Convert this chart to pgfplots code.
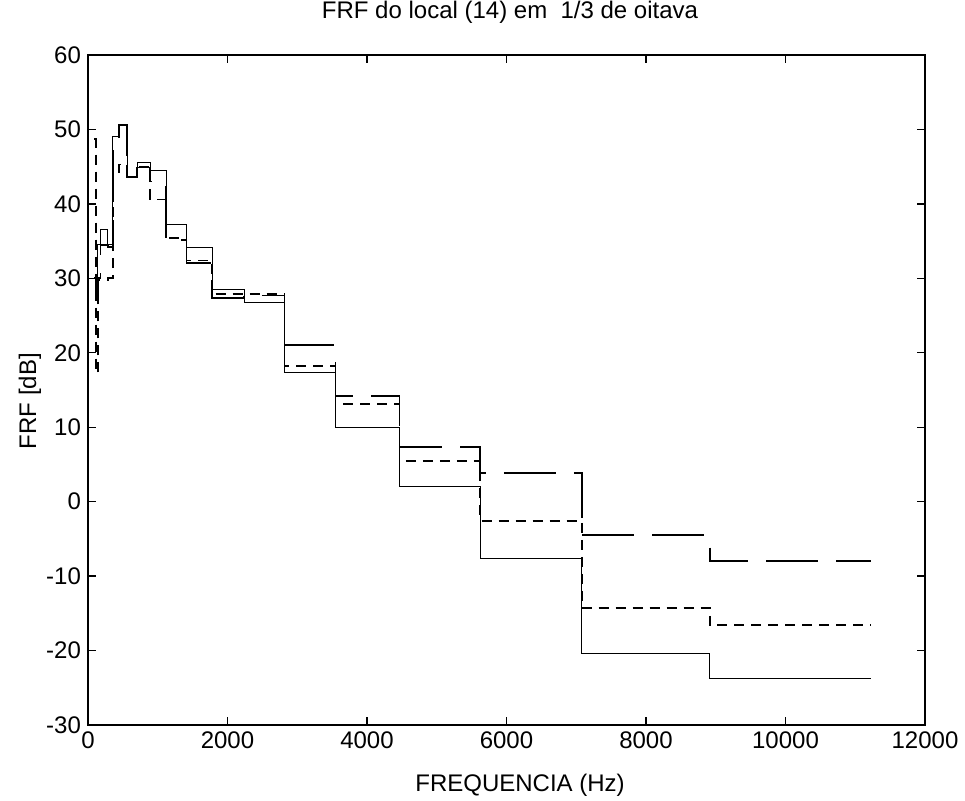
\documentclass[border=0pt]{standalone}
\usepackage{fontspec}
\setmainfont{Liberation Sans}
\usepackage{pgfplots}
\usepackage{pgfplotstable}
\pgfplotsset{compat=1.18}
% band lower edges (Hz); last row closes the last band
\pgfplotstableread{
x      S      D      L
89     30.0   48.7   30.0
112    30.0   17.3   27.3
141    34.5   29.8   30.0
178    36.5   29.8   34.5
224    36.5   29.8   34.5
282    34.5   30.0   34.2
355    49.0   44.1   49.0
447    50.6   45.3   50.6
562    43.6   43.6   43.6
708    45.6   45.0   44.9
891    44.5   40.6   43.0
1122   37.2   35.4   35.1
1413   34.1   32.4   32.1
1778   28.5   27.9   27.4
2239   26.8   27.9   27.7
2818   17.4   18.2   21.0
3548   10.0   13.1   14.2
4467    2.0    5.5    7.3
5623   -7.7   -2.6    3.8
7079  -20.4  -14.3   -4.5
8913  -23.7  -16.6   -8.0
11220 -23.7  -16.6   -8.0
}\frf
\begin{document}
\begin{tikzpicture}
\useasboundingbox (-44pt,-37.5pt) rectangle (438.5pt,362.5pt);
\begin{axis}[
  at={(0pt,0pt)}, anchor=south west, scale only axis,
  width=418.5pt, height=335pt,
  xmin=0, xmax=12000, ymin=-30, ymax=60,
  xtick={0,2000,...,12000}, ytick={-30,-20,...,60},
  tick align=inside, major tick length=4pt,
  scaled x ticks=false,
  /pgf/number format/1000 sep={},
  /pgf/number format/assume math mode=true,
  tick label style={font=\fontsize{12}{14}\selectfont},
  axis line style={line width=0.9pt},
  tick style={line width=0.7pt, black},
]
\addplot[const plot, black, line width=0.5pt] table[x=x,y=S]{\frf};
\addplot[const plot, black, line width=0.9pt, dash pattern=on 5pt off 3.5pt] table[x=x,y=D]{\frf};
\addplot[const plot, black, line width=0.9pt, dash pattern=on 26pt off 9pt] table[x=x,y=L]{\frf};
\end{axis}
\node[font=\fontsize{12}{14}\selectfont] at (211pt,356.5pt) {FRF do local (14) em\ \ 1/3 de oitava};
\node[font=\fontsize{12}{14}\selectfont] at (216pt,-30pt) {FREQUENCIA (Hz)};
\node[font=\fontsize{12}{14}\selectfont, rotate=90] at (-29pt,162pt) {FRF [dB]};
\end{tikzpicture}
\end{document}
